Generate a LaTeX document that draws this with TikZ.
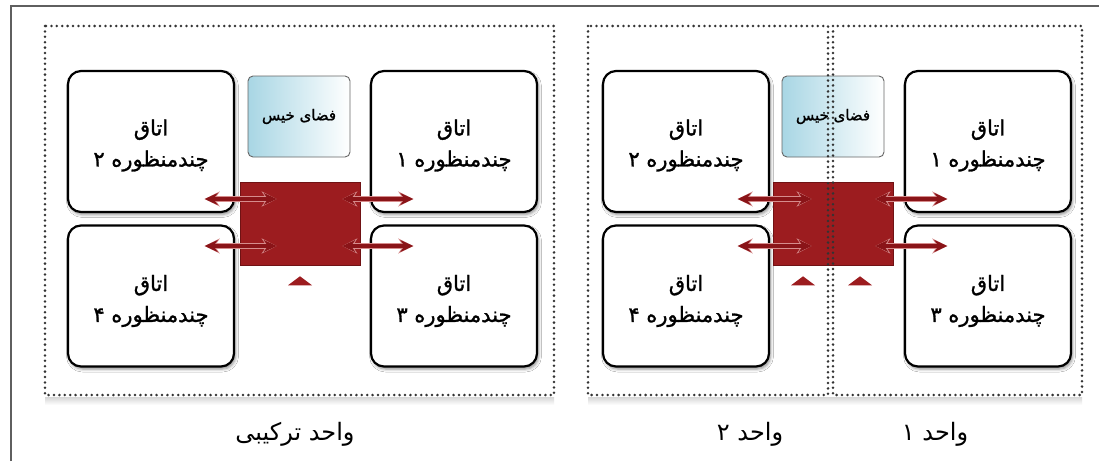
\documentclass[tikz,border=0pt]{standalone}
\usepackage{fontspec}
\newfontfamily\fa[Script=Arabic, AutoFakeBold=1.3]{DejaVu Sans}
\TeXXeTstate=1
\usetikzlibrary{arrows.meta,shadows.blur,calc}

\definecolor{coreRed}{RGB}{156,28,31}
\definecolor{coreEdge}{RGB}{112,18,20}
\definecolor{arrowRed}{RGB}{138,20,24}
\definecolor{arrowRim}{RGB}{214,140,140}
\definecolor{khisBlue}{RGB}{168,214,228}
\definecolor{frameGray}{RGB}{95,95,95}

\newcommand\roomfont{\fa\bfseries\fontsize{21}{31}\selectfont}
\newcommand\khisfont{\fa\bfseries\fontsize{15}{17}\selectfont}
\newcommand\unitfont{\fa\fontsize{24}{26}\selectfont}

\tikzset{
  room/.style={draw=black, line width=2.2pt, rounded corners=13pt, fill=white,
    minimum width=166pt, minimum height=141pt, inner sep=0pt,
    blur shadow={shadow xshift=1.5pt, shadow yshift=-2.5pt,
      shadow blur radius=3pt, shadow opacity=45}},
  roomlabel/.style={align=center, font=\roomfont, inner sep=0pt},
  khis/.style={draw=black!60, line width=0.9pt, rounded corners=5pt,
    left color=khisBlue, right color=white,
    minimum width=102pt, minimum height=81pt, inner sep=0pt, font=\khisfont},
  core/.style={fill=coreRed, draw=coreEdge, line width=0.6pt,
    minimum width=120pt, minimum height=83pt, inner sep=0pt},
  dotframe/.style={draw=black!80, line width=2.8pt, line cap=round,
    dash pattern=on 0pt off 5.4pt},
  frameline/.style={draw=frameGray, line width=1.3pt},
  linkrim/.style={draw=arrowRim, line width=5.6pt,
    {Stealth[length=15pt,width=15pt]}-{Stealth[length=15pt,width=15pt]}},
  link/.style={draw=arrowRed, line width=3.6pt,
    {Stealth[length=13pt,width=12pt]}-{Stealth[length=13pt,width=12pt]}},
  entry/.style={fill=coreRed},
  unitlabel/.style={font=\unitfont, inner sep=0pt}
}

\newcommand\roomtext[1]{\beginR اتاق\endR\\\beginR چندمنظوره #1\endR}

\begin{document}
\begin{tikzpicture}[x=1pt,y=-1pt]
  \useasboundingbox (0,0) rectangle (1099,461);
  \fill[white] (0,0) rectangle (1099,461);

  % page frame
  \draw[frameline] (11,461) -- (11,6) -- (1099,6);

  % soft shade beneath the dotted unit frames
  \shade[top color=black!16, bottom color=white] (45,397) rectangle (554,405);
  \shade[top color=black!16, bottom color=white] (588,397) rectangle (1082,405);

  % ---------- combined unit ----------
  \draw[dotframe] (45,26) rectangle (554,395);
  \node[room] (r2L) at (151,141.5) {};
  \node[room] (r1L) at (454,141.5) {};
  \node[room] (r4L) at (151,296) {};
  \node[room] (r3L) at (454,296) {};
  \node[roomlabel] (t2L) at ($(r2L.center)+(0,4)$) {\roomtext{۲}};
  \node[roomlabel] (t1L) at ($(r1L.center)+(0,4)$) {\roomtext{۱}};
  \node[roomlabel] (t4L) at ($(r4L.center)+(0,5)$) {\roomtext{۴}};
  \node[roomlabel] (t3L) at ($(r3L.center)+(0,5)$) {\roomtext{۳}};
  \node[khis] (kL) at (299,116.5) {\beginR فضای خیس\endR};
  \node[core] (cL) at (300,223.5) {};

  \coordinate (aL1) at ($(cL.west)+(-35,-24.5)$);
  \coordinate (bL1) at ($(cL.west)+(37,-24.5)$);
  \coordinate (aL2) at ($(cL.west)+(-35,22.5)$);
  \coordinate (bL2) at ($(cL.west)+(37,22.5)$);
  \coordinate (aL3) at ($(cL.east)+(-18,-24.5)$);
  \coordinate (bL3) at ($(cL.east)+(53,-24.5)$);
  \coordinate (aL4) at ($(cL.east)+(-18,22.5)$);
  \coordinate (bL4) at ($(cL.east)+(53,22.5)$);
  \foreach \i in {1,...,4} {
    \draw[linkrim] (aL\i) -- (bL\i);
    \draw[link] (aL\i) -- (bL\i);
  }
  \coordinate (eL) at ($(cL.south)+(0,16)$);
  \fill[entry] ($(eL)+(0,-5)$) -- ($(eL)+(12,4)$) -- ($(eL)+(-12,4)$) -- cycle;

  \node[unitlabel] (uC) at (295,434) {\beginR واحد ترکیبی\endR};

  % ---------- units 1 and 2 side by side ----------
  \node[room] (r2R) at (686,141.5) {};
  \node[room] (r1R) at (988,141.5) {};
  \node[room] (r4R) at (686,296) {};
  \node[room] (r3R) at (988,296) {};
  \node[roomlabel] (t2R) at ($(r2R.center)+(0,4)$) {\roomtext{۲}};
  \node[roomlabel] (t1R) at ($(r1R.center)+(0,4)$) {\roomtext{۱}};
  \node[roomlabel] (t4R) at ($(r4R.center)+(0,5)$) {\roomtext{۴}};
  \node[roomlabel] (t3R) at ($(r3R.center)+(0,5)$) {\roomtext{۳}};
  \node[khis] (kR) at (833,116.5) {\beginR فضای خیس\endR};
  \node[core] (cR) at (833,223.5) {};

  \coordinate (aR1) at ($(cR.west)+(-35,-24.5)$);
  \coordinate (bR1) at ($(cR.west)+(39,-24.5)$);
  \coordinate (aR2) at ($(cR.west)+(-35,22.5)$);
  \coordinate (bR2) at ($(cR.west)+(39,22.5)$);
  \coordinate (aR3) at ($(cR.east)+(-18,-24.5)$);
  \coordinate (bR3) at ($(cR.east)+(54,-24.5)$);
  \coordinate (aR4) at ($(cR.east)+(-18,22.5)$);
  \coordinate (bR4) at ($(cR.east)+(54,22.5)$);
  \foreach \i in {1,...,4} {
    \draw[linkrim] (aR\i) -- (bR\i);
    \draw[link] (aR\i) -- (bR\i);
  }
  \coordinate (eR1) at ($(cR.south)+(-30,16)$);
  \coordinate (eR2) at ($(cR.south)+(27,16)$);
  \foreach \e in {eR1,eR2}
    \fill[entry] ($(\e)+(0,-5)$) -- ($(\e)+(12,4)$) -- ($(\e)+(-12,4)$) -- cycle;

  % the two unit frames meet along a doubled dotted line
  \draw[dotframe] (588,26) rectangle (828,395);
  \draw[dotframe] (833,26) rectangle (1082,395);

  \node[unitlabel] (u2) at (750,434) {\beginR واحد ۲\endR};
  \node[unitlabel] (u1) at (935,434) {\beginR واحد ۱\endR};
\end{tikzpicture}
\end{document}
